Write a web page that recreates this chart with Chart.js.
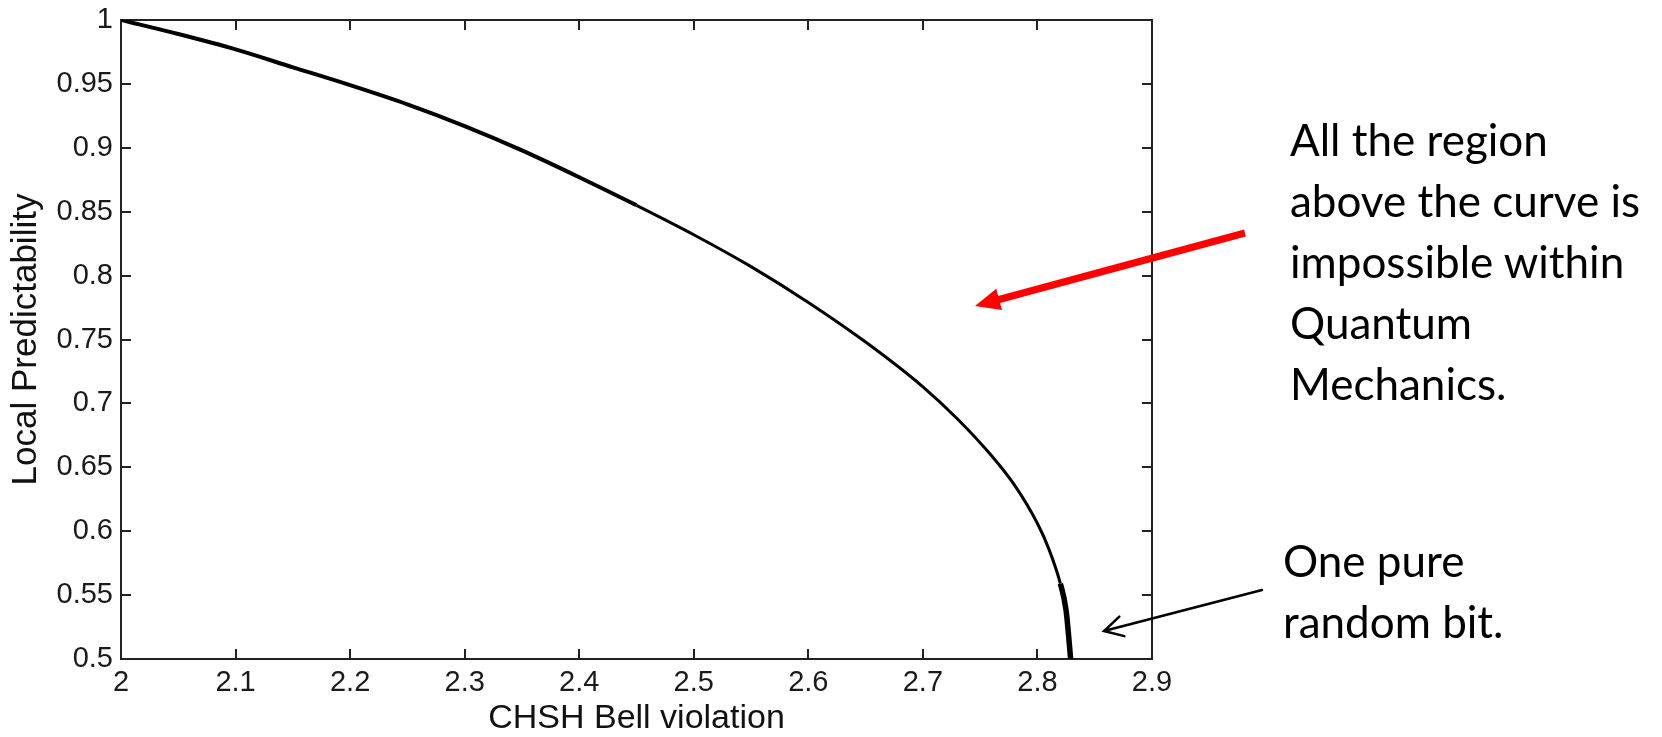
<!DOCTYPE html>
<html>
<head>
<meta charset="utf-8">
<script src="https://cdn.jsdelivr.net/npm/chart.js@4"></script>
<style>
  html, body { margin: 0; padding: 0; background: #fff; }
  #wrap { position: relative; width: 1662px; height: 737px; }
  .note { position: absolute; font-family: Lato, 'Open Sans', sans-serif; font-size: 44px; line-height: 61px; color: #000; white-space: nowrap; }
</style>
</head>
<body>
<div id="wrap">
  <canvas id="chart"></canvas>
  <div class="note" style="left:1290px;top:109px">All the region<br>above the curve is<br>impossible within<br>Quantum<br>Mechanics.</div>
  <div class="note" style="left:1283px;top:530px">One pure<br>random bit.</div>
</div>
<script>
// curve
const bellViolation = [2.0, 2.05, 2.1, 2.15, 2.2, 2.25, 2.3, 2.35, 2.4, 2.45, 2.5, 2.55, 2.6, 2.65, 2.7, 2.73, 2.76, 2.78, 2.8, 2.81, 2.82, 2.825, 2.829];
const localPredictability = [1.0, 0.989, 0.977, 0.963, 0.949, 0.934, 0.917, 0.898, 0.877, 0.855, 0.832, 0.807, 0.779, 0.748, 0.713, 0.688, 0.659, 0.636, 0.606, 0.586, 0.559, 0.538, 0.5];

const xTicks = [2, 2.1, 2.2, 2.3, 2.4, 2.5, 2.6, 2.7, 2.8, 2.9];
const xTickLabels = ['2', '2.1', '2.2', '2.3', '2.4', '2.5', '2.6', '2.7', '2.8', '2.9'];
const yTicks = [0.5, 0.55, 0.6, 0.65, 0.7, 0.75, 0.8, 0.85, 0.9, 0.95, 1];
const yTickLabels = ['0.5', '0.55', '0.6', '0.65', '0.7', '0.75', '0.8', '0.85', '0.9', '0.95', '1'];

const axisFont = 'Liberation Sans, Arial, sans-serif';

// arrows pointing from the notes into the plot
function drawArrow(ctx, x1, y1, x2, y2, color, width, filled) {
    const ang = Math.atan2(y2 - y1, x2 - x1);
    ctx.save();
    ctx.strokeStyle = color;
    ctx.fillStyle = color;
    ctx.lineWidth = width;
    ctx.lineCap = 'butt';
    if (filled) {
        const hl = 25, hw = 11;
        const bx = x2 - hl * Math.cos(ang), by = y2 - hl * Math.sin(ang);
        ctx.beginPath();
        ctx.moveTo(x1, y1);
        ctx.lineTo(bx + 2 * Math.cos(ang), by + 2 * Math.sin(ang));
        ctx.stroke();
        ctx.beginPath();
        ctx.moveTo(x2, y2);
        ctx.lineTo(bx + hw * Math.sin(ang), by - hw * Math.cos(ang));
        ctx.lineTo(bx - hw * Math.sin(ang), by + hw * Math.cos(ang));
        ctx.closePath();
        ctx.fill();
    } else {
        ctx.lineCap = 'round';
        ctx.beginPath();
        ctx.moveTo(x1, y1);
        ctx.lineTo(x2, y2);
        const hl = 21, a = 0.5;
        ctx.moveTo(x2 - hl * Math.cos(ang - a), y2 - hl * Math.sin(ang - a));
        ctx.lineTo(x2, y2);
        ctx.lineTo(x2 - hl * Math.cos(ang + a), y2 - hl * Math.sin(ang + a));
        ctx.stroke();
    }
    ctx.restore();
}

const arrowPlugin = {
    id: 'arrows',
    afterDraw(chart) {
        drawArrow(chart.ctx, 1245, 233, 975, 306, 'rgb(255,0,0)', 7, true);
        drawArrow(chart.ctx, 1262, 590, 1104, 631, '#000', 2.5, false);
    }
};

// matlab style inward ticks on all four sides
function boxAxis(pos, ticks, labels, showLabels) {
    const horiz = pos === 'bottom' || pos === 'top';
    return {
        type: 'linear',
        position: pos,
        display: true,
        min: horiz ? 2 : 0.5,
        max: horiz ? 2.9 : 1,
        afterBuildTicks: s => { s.ticks = ticks.map(v => ({ value: v })); },
        afterFit: s => {
            if (pos === 'bottom') s.height = 78;
            else if (pos === 'left') s.width = 121;
            else if (horiz) s.height = 0;
            else s.width = 0;
            if (!horiz) { s.paddingTop = 0; s.paddingBottom = 0; }
        },
        grid: { drawOnChartArea: false, drawTicks: true, tickLength: -10, color: '#222', lineWidth: 2 },
        border: { display: true, color: '#222', width: 2 },
        ticks: {
            display: showLabels,
            autoSkip: false,
            maxRotation: 0,
            padding: horiz ? 17 : 18,
            color: '#1a1a1a',
            font: { family: axisFont, size: 29 },
            callback: (v, i) => labels[i]
        }
    };
}

const xAxis = boxAxis('bottom', xTicks, xTickLabels, true);
xAxis.title = { display: true, text: 'CHSH Bell violation', color: '#111', font: { family: axisFont, size: 34 }, padding: { top: 0, bottom: -2 } };
const yAxis = boxAxis('left', yTicks, yTickLabels, true);
yAxis.title = { display: true, text: 'Local Predictability', color: '#111', font: { family: axisFont, size: 35 }, padding: { top: 5, bottom: 0 } };

const ctx = document.getElementById('chart').getContext('2d');
const myChart = new Chart(ctx, {
    type: 'line',
    data: {
        datasets: [{
            data: bellViolation.map((x, i) => ({ x: x, y: localPredictability[i] })),
            borderColor: '#000',
            borderWidth: 3,
            pointRadius: 0,
            cubicInterpolationMode: 'monotone',
            segment: {
                borderWidth: c => c.p0.parsed.y > 0.87 ? 4 : (c.p0.parsed.y < 0.56 ? 5.5 : 3)
            }
        }]
    },
    options: {
        responsive: true,
        maintainAspectRatio: false,
        animation: false,
        layout: { padding: { top: 20, right: 510, left: 0, bottom: 0 } },
        plugins: { legend: { display: false }, tooltip: { enabled: false } },
        scales: {
            x: xAxis,
            y: yAxis,
            x2: boxAxis('top', xTicks, xTickLabels, false),
            y2: boxAxis('right', yTicks, yTickLabels, false)
        }
    },
    plugins: [arrowPlugin]
});
</script>
</body>
</html>
